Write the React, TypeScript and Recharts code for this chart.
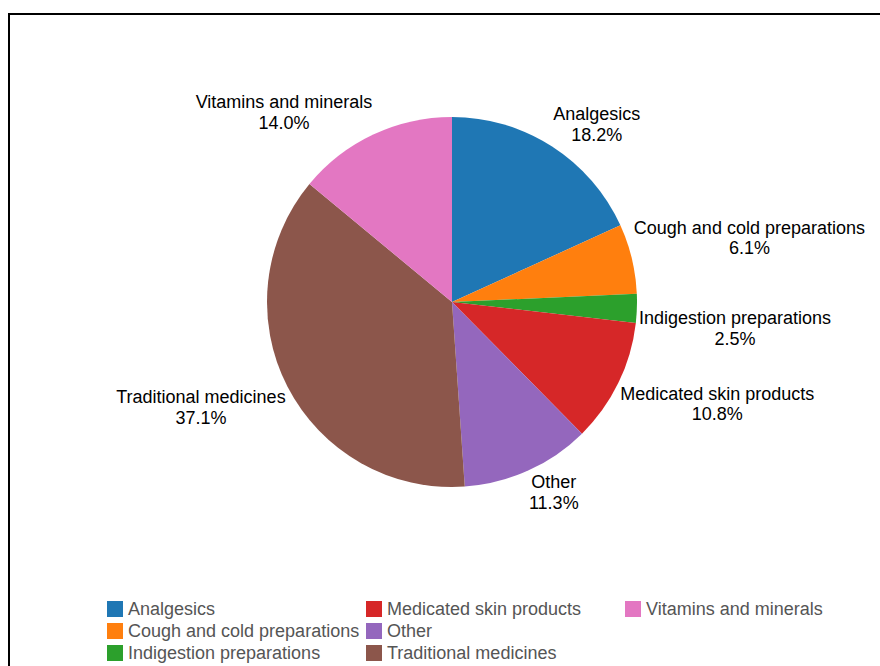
import React from 'react';
import { PieChart, Pie, Cell, Legend } from 'recharts';

const categories = [
  'Analgesics',
  'Cough and cold preparations',
  'Indigestion preparations',
  'Medicated skin products',
  'Other',
  'Traditional medicines',
  'Vitamins and minerals',
];
const shares = [18.2, 6.1, 2.5, 10.8, 11.3, 37.1, 14.0];
const colors = ['#1f77b4', '#ff7f0e', '#2ca02c', '#d62728', '#9467bd', '#8c564b', '#e377c2'];

const data = categories.map((name, i) => ({ name, value: shares[i] }));

const FONT = '"Liberation Sans", Arial, Helvetica, sans-serif';
let ctx: CanvasRenderingContext2D | null = null;
function measure(t: string): number {
  if (!ctx) {
    const c = document.createElement('canvas');
    ctx = c.getContext('2d');
  }
  if (!ctx) return t.length * 9;
  ctx.font = `18px ${FONT}`;
  return ctx.measureText(t).width;
}

const renderLabel = (props: any) => {
  const { cx, cy, midAngle, outerRadius, index } = props;
  const name = categories[index];
  const pct = shares[index].toFixed(1) + '%';
  const R = outerRadius + 2;
  const rad = (midAngle * Math.PI) / 180;
  const x = cx + R * Math.cos(rad);
  const y = cy - R * Math.sin(rad);
  const w = Math.max(measure(name), measure(pct));
  const centerX = x >= cx ? x + w / 2 : x - w / 2;
  const lineH = 20.7;
  let base1: number;
  if (y < cy) {
    base1 = y - 4 - lineH;
  } else {
    base1 = y + 16;
  }
  return (
    <text textAnchor="middle" fontSize={18} fontFamily={FONT} fill="#000">
      <tspan x={centerX} y={base1}>{name}</tspan>
      <tspan x={centerX} y={base1 + lineH}>{pct}</tspan>
    </text>
  );
};

const renderLegend = () => (
  <div
    style={{
      display: 'grid',
      gridTemplateRows: 'repeat(3, 22px)',
      gridAutoFlow: 'column',
      gridAutoColumns: '259px',
      fontFamily: FONT,
      fontSize: 18,
      color: '#555',
    }}
  >
    {categories.map((name, i) => (
      <div key={name} style={{ display: 'flex', alignItems: 'center', height: 22, whiteSpace: 'nowrap' }}>
        <span style={{ display: 'inline-block', width: 16, height: 16, background: colors[i], marginRight: 5 }} />
        <span style={{ lineHeight: '22px' }}>{name}</span>
      </div>
    ))}
  </div>
);

export default function App() {
  return (
    <>
      <style>{'html{overflow:hidden}'}</style>
      <div
        style={{
          position: 'fixed',
          left: 8,
          top: 13,
          width: 900,
          height: 680,
          borderTop: '2px solid #000',
          borderLeft: '2px solid #000',
          overflow: 'hidden',
          background: '#fff',
        }}
      >
        <PieChart width={870} height={651} margin={{ top: 0, right: 0, bottom: 0, left: 0 }}>
          <Pie
            data={data}
            dataKey="value"
            nameKey="name"
            cx={442}
            cy={287}
            outerRadius={185}
            startAngle={90}
            endAngle={-270}
            stroke="none"
            label={renderLabel}
            labelLine={false}
            isAnimationActive={false}
          >
            {data.map((d, i) => (
              <Cell key={d.name} fill={colors[i]} />
            ))}
          </Pie>
          <Legend
            verticalAlign="bottom"
            content={renderLegend}
            wrapperStyle={{ left: 97, top: 583, bottom: 'auto', width: 800 }}
          />
        </PieChart>
      </div>
    </>
  );
}
